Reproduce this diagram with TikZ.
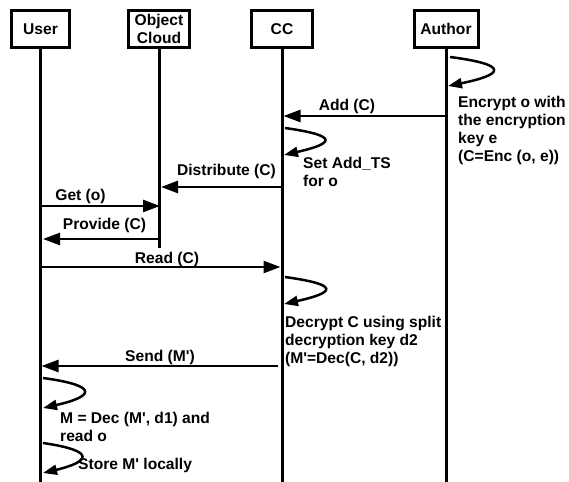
\documentclass[tikz,border=0pt]{standalone}
\usepackage{fontspec}
\newfontfamily\lab{Liberation Sans}
\usetikzlibrary{arrows.meta}
\begin{document}
\begin{tikzpicture}[x=1pt,y=-1pt,
  txt/.style={font=\lab\bfseries\fontsize{15.6}{18}\selectfont, inner sep=0pt},
  actor/.style={txt, draw, line width=3pt, minimum height=37pt, align=center},
  life/.style={line width=3pt},
  msg/.style={line width=2.5pt, -{Triangle[length=17pt,width=12pt]}},
  selfmsg/.style={line width=2.5pt, -{Triangle[length=14pt,width=10pt]}},
  lbl/.style={txt, anchor=base},
  note/.style={txt, anchor=north west, align=left}]
\useasboundingbox (0,0) rectangle (569,481);

% actors
\node[actor, minimum width=58pt] (user) at (40.5,29) {User};
\node[actor, minimum width=61pt] (obj) at (159,29) {Object\\Cloud};
\node[actor, minimum width=61pt] (cc) at (282,29) {CC};
\node[actor, minimum width=64pt] (author) at (446,29) {Author};

% lifelines
\coordinate (userEnd) at (user.south |- 0,485);
\coordinate (objEnd) at (obj.south |- 0,248);
\coordinate (ccEnd) at (cc.south |- 0,485);
\coordinate (authorEnd) at (author.south |- 0,485);
\draw[life] (user.south) -- (userEnd);
\draw[life] (obj.south) -- (objEnd);
\draw[life] (cc.south) -- (ccEnd);
\draw[life] (author.south) -- (authorEnd);

% Author self loop
\coordinate (l1s) at (450,57);
\coordinate (l1e) at (448,86);
\draw[selfmsg] (l1s) .. controls (512,65) and (502,75) .. (l1e);
\node[note] (n1) at (458,95.5) {Encrypt o with\\the encryption\\key e\\(C=Enc (o, e))};

% Add (C)
\coordinate (addS) at (446,116);
\coordinate (addE) at (283.5,116);
\draw[msg] (addS) -- (addE);
\node[lbl] (addL) at (347,110.4) {Add (C)};

% CC self loop 1
\coordinate (l2s) at (285,128);
\coordinate (l2e) at (284,155);
\draw[selfmsg] (l2s) .. controls (342,136) and (332,144) .. (l2e);
\node[note] (n2) at (303,157) {Set Add\_TS\\for o};

% Distribute (C)
\coordinate (disS) at (282,187);
\coordinate (disE) at (161,187);
\draw[msg] (disS) -- (disE);
\node[lbl] (disL) at (226.5,175.4) {Distribute (C)};

% Get (o)
\coordinate (getS) at (40,206);
\coordinate (getE) at (160,206);
\draw[msg] (getS) -- (getE);
\node[lbl] (getL) at (80.5,200.4) {Get (o)};

% Provide (C)
\coordinate (proS) at (157.5,239);
\coordinate (proE) at (43,239);
\draw[msg] (proS) -- (proE);
\node[lbl] (proL) at (104.5,229.4) {Provide (C)};

% Read (C)
\coordinate (reaS) at (40,267);
\coordinate (reaE) at (280.5,267);
\draw[msg] (reaS) -- (reaE);
\node[lbl] (reaL) at (167,263.5) {Read (C)};

% CC self loop 2
\coordinate (l3s) at (285,277);
\coordinate (l3e) at (284,304);
\draw[selfmsg] (l3s) .. controls (343,285) and (333,293) .. (l3e);
\node[note] (n3) at (285,315.5) {Decrypt C using split\\decryption key d2\\(M'=Dec(C, d2))};

% Send (M')
\coordinate (senS) at (278,366);
\coordinate (senE) at (41.5,366);
\draw[msg] (senS) -- (senE);
\node[lbl] (senL) at (160,361.4) {Send (M')};

% User self loop 1
\coordinate (l4s) at (43,378);
\coordinate (l4e) at (43,408);
\draw[selfmsg] (l4s) .. controls (102,386) and (92,397) .. (l4e);
\node[note] (n4) at (60,411.5) {M = Dec (M', d1) and\\read o};

% User self loop 2
\coordinate (l5s) at (43,443);
\coordinate (l5e) at (43,473);
\draw[selfmsg] (l5s) .. controls (98,451) and (89,462) .. (l5e);
\node[note] (n5) at (78,457.5) {Store M' locally};
\end{tikzpicture}
\end{document}
